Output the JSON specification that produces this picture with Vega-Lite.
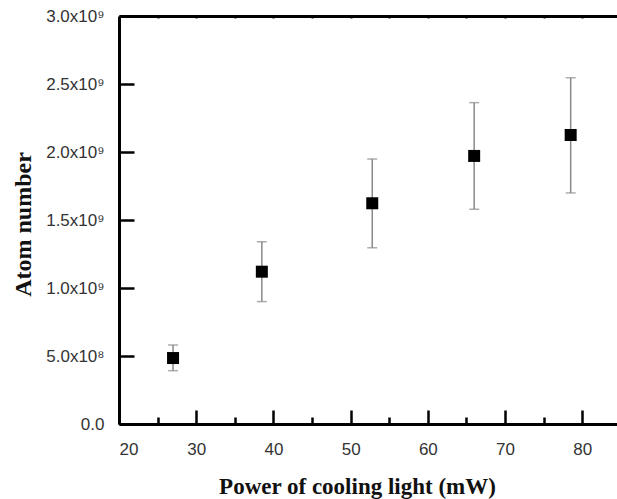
{
  "$schema": "https://vega.github.io/schema/vega-lite/v6.json",
  "width": 498,
  "height": 408,
  "autosize": {"type": "none"},
  "padding": {"left": 119, "top": 16, "right": 0, "bottom": 75},
  "background": "white",
  "config": {"view": {"stroke": null}},
  "data": {"values": [
    {"power": 27.0, "atoms": 0.485e9, "low": 0.392e9, "high": 0.581e9},
    {"power": 38.5, "atoms": 1.12e9, "low": 0.90e9, "high": 1.34e9},
    {"power": 52.8, "atoms": 1.623e9, "low": 1.296e9, "high": 1.949e9},
    {"power": 66.0, "atoms": 1.971e9, "low": 1.579e9, "high": 2.363e9},
    {"power": 78.5, "atoms": 2.125e9, "low": 1.699e9, "high": 2.546e9}
  ]},
  "resolve": {"axis": {"x": "independent"}},
  "layer": [
    {
      "mark": {"type": "rule", "color": "#8a8a8a", "strokeWidth": 1.5},
      "encoding": {
        "x": {"field": "power", "type": "quantitative", "scale": {"domain": [20, 84.5], "nice": false},
          "axis": {
            "title": "Power of cooling light (mW)",
            "titleFont": "Liberation Serif", "titleFontWeight": "bold", "titleFontSize": 23, "titleColor": "#111",
            "titleAnchor": "start", "titleAlign": "center", "titleX": 238, "titleY": 69, "titleBaseline": "alphabetic",
            "values": [20, 25, 30, 35, 40, 45, 50, 55, 60, 65, 70, 75, 80],
            "labelExpr": "datum.value % 10 === 0 ? datum.label : ''",
            "labelFont": "Liberation Sans", "labelFontSize": 17, "labelColor": "#333",
            "labelPadding": 31,
            "tickSize": {"condition": {"test": "datum.value % 10 === 0", "value": -14}, "value": -7},
            "tickWidth": 2.5, "tickColor": "#000",
            "domainWidth": 3, "domainColor": "#000",
            "grid": false
          }},
        "y": {"field": "low", "type": "quantitative", "scale": {"domain": [0, 3e9], "nice": false},
          "axis": {
            "title": "Atom number",
            "titleFont": "Liberation Serif", "titleFontWeight": "bold", "titleFontSize": 24, "titleColor": "#111",
            "titleAnchor": "start", "titleAlign": "center", "titleX": -96, "titleY": 208, "titleBaseline": "middle",
            "values": [0, 250000000, 500000000, 750000000, 1000000000, 1250000000, 1500000000, 1750000000, 2000000000, 2250000000, 2500000000, 2750000000, 3000000000],
            "labelExpr": "datum.value % 500000000 !== 0 ? '' : (datum.value === 0 ? '0.0' : (datum.value < 1000000000 ? format(datum.value/100000000, '.1f') + 'x10⁸' : format(datum.value/1000000000, '.1f') + 'x10⁹'))",
            "labelFont": "Liberation Sans", "labelFontSize": 17, "labelColor": "#333",
            "labelPadding": 30,
            "tickSize": {"condition": {"test": "datum.value % 500000000 === 0", "value": -15}, "value": -8},
            "tickWidth": 2.5, "tickColor": "#000",
            "domainWidth": 3, "domainColor": "#000",
            "grid": false
          }},
        "y2": {"field": "high"}
      }
    },
    {
      "mark": {"type": "tick", "orient": "horizontal", "color": "#8a8a8a", "size": 10, "thickness": 1.5},
      "encoding": {
        "x": {"field": "power", "type": "quantitative", "axis": null},
        "y": {"field": "low", "type": "quantitative"}
      }
    },
    {
      "mark": {"type": "tick", "orient": "horizontal", "color": "#8a8a8a", "size": 10, "thickness": 1.5},
      "encoding": {
        "x": {"field": "power", "type": "quantitative", "axis": null},
        "y": {"field": "high", "type": "quantitative"}
      }
    },
    {
      "mark": {"type": "point", "shape": "square", "filled": true, "color": "#000", "size": 144, "opacity": 1},
      "encoding": {
        "x": {"field": "power", "type": "quantitative",
          "axis": {"orient": "top", "title": null, "labels": false,
            "values": [25, 30, 35, 40, 45, 50, 55, 60, 65, 70, 75, 80],
            "tickSize": -2, "tickWidth": 2, "tickColor": "#000",
            "domainWidth": 3, "domainColor": "#000", "grid": false}},
        "y": {"field": "atoms", "type": "quantitative"}
      }
    }
  ]
}
